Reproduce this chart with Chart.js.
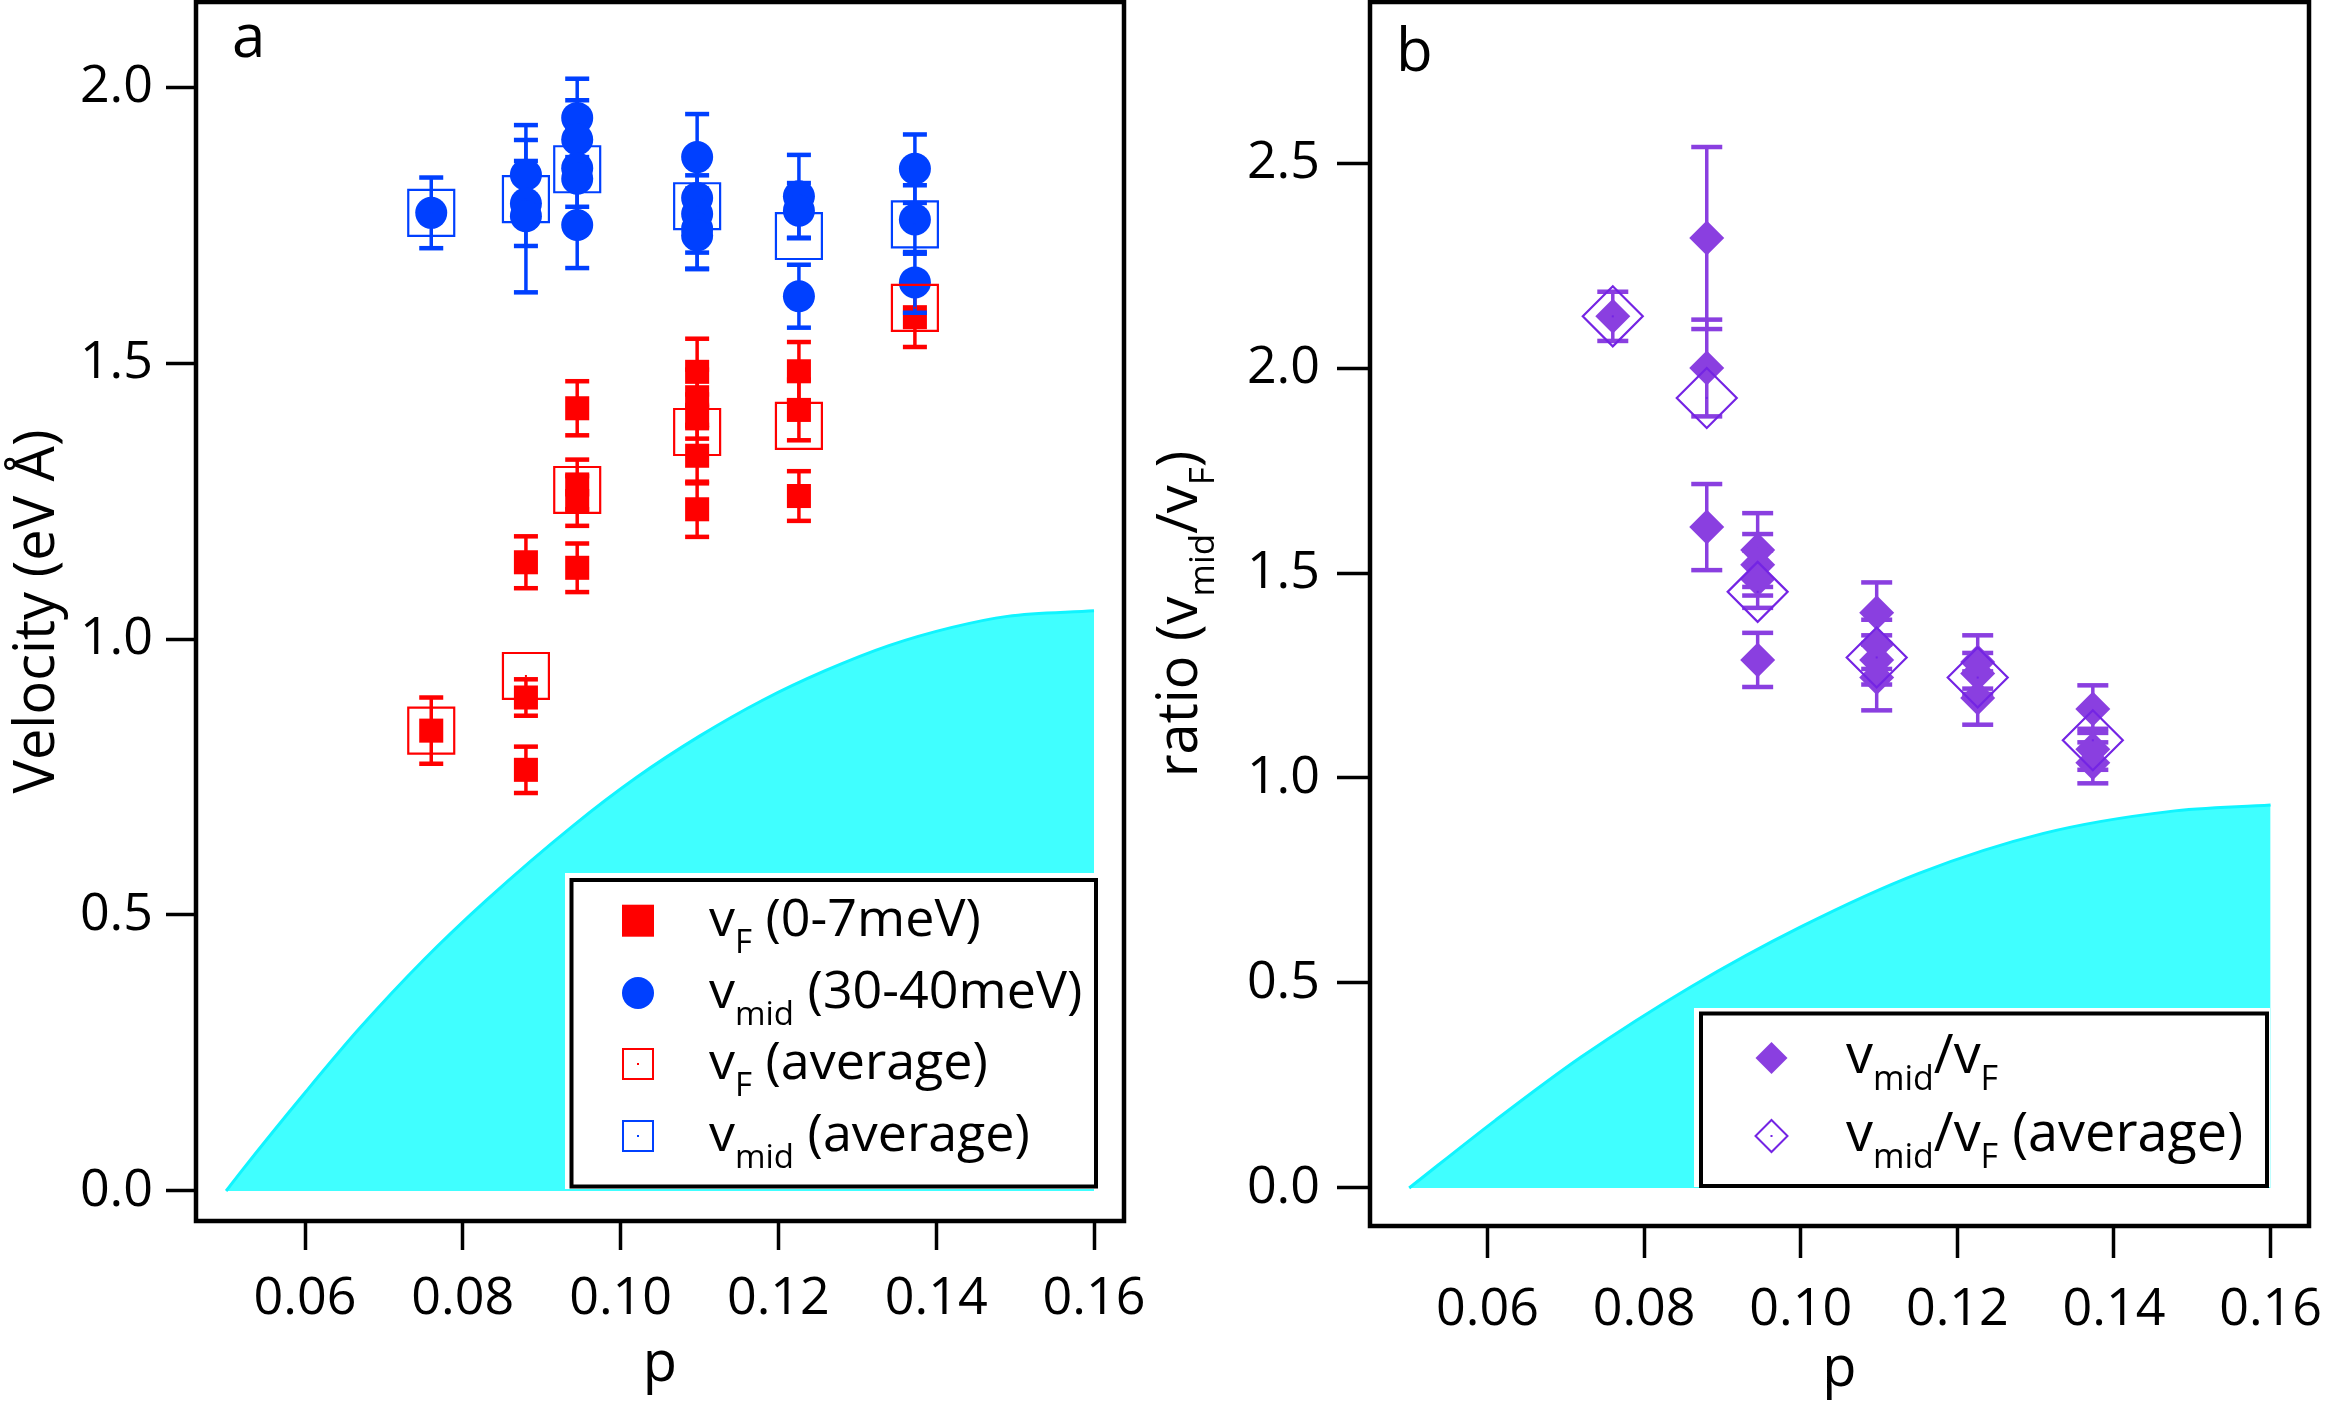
<!DOCTYPE html>
<html>
<head>
<meta charset="utf-8">
<script src="https://cdn.jsdelivr.net/npm/chart.js@4.4.1/dist/chart.umd.min.js"></script>
<style>
  html, body { margin: 0; padding: 0; background: #fff; }
  body { width: 2329px; height: 1405px; position: relative; overflow: hidden; }
  canvas { position: absolute; top: 0; }
  #panelA { left: 0; width: 1150px; height: 1405px; }
  #panelB { left: 1150px; width: 1179px; height: 1405px; }
</style>
</head>
<body>
<canvas id="panelA" width="1150" height="1405"></canvas>
<canvas id="panelB" width="1179" height="1405"></canvas>
<script>
// hole doping of the samples
const dopings = [0.076, 0.088, 0.0945, 0.1097, 0.1226, 0.1373];

// v_F (0-7meV): index into dopings, value, error
const vfDoping = [0, 1, 1, 1, 2, 2, 2, 2, 3, 3, 3, 3, 3, 4, 4, 4, 5];
const vfValues = [0.834, 1.139, 0.894, 0.763, 1.418, 1.280, 1.250, 1.129, 1.484, 1.438, 1.403, 1.332, 1.235, 1.485, 1.415, 1.259, 1.583];
const vfErrors = [0.060, 0.047, 0.033, 0.042, 0.049, 0.045, 0.045, 0.044, 0.060, 0.050, 0.040, 0.050, 0.050, 0.053, 0.055, 0.045, 0.054];

// v_mid (30-40meV)
const vmidDoping = [0, 1, 1, 1, 2, 2, 2, 2, 2, 3, 3, 3, 3, 3, 4, 4, 4, 5, 5, 5];
const vmidValues = [1.772, 1.841, 1.789, 1.766, 1.944, 1.905, 1.853, 1.834, 1.750, 1.873, 1.799, 1.770, 1.743, 1.731, 1.802, 1.776, 1.621, 1.852, 1.760, 1.646];
const vmidErrors = [0.064, 0.090, 0.077, 0.138, 0.071, 0.071, 0.070, 0.070, 0.078, 0.078, 0.070, 0.070, 0.073, 0.060, 0.075, 0.050, 0.057, 0.062, 0.062, 0.055];

// averages, one per doping
const vfAverage = [0.834, 0.933, 1.270, 1.375, 1.386, 1.600];
const vmidAverage = [1.772, 1.797, 1.851, 1.784, 1.730, 1.751];

// ratio v_mid / v_F
const ratioDoping = [0, 1, 1, 1, 2, 2, 2, 2, 3, 3, 3, 3, 4, 4, 4, 5, 5, 5];
const ratioValues = [2.126, 2.317, 2.000, 1.612, 1.556, 1.520, 1.485, 1.288, 1.403, 1.326, 1.288, 1.245, 1.283, 1.255, 1.195, 1.168, 1.070, 1.037];
const ratioErrors = [0.060, 0.222, 0.118, 0.105, 0.090, 0.075, 0.070, 0.066, 0.074, 0.060, 0.060, 0.080, 0.065, 0.050, 0.065, 0.058, 0.050, 0.050];
const ratioAverage = [2.126, 1.927, 1.454, 1.294, 1.245, 1.092];

// shaded region boundaries
const boundaryDoping = [0.050, 0.052, 0.060, 0.067, 0.075, 0.083, 0.094, 0.102, 0.110, 0.118, 0.126, 0.134, 0.142, 0.149, 0.160];
const boundaryVelocity = [0, 0.037, 0.178, 0.296, 0.418, 0.527, 0.662, 0.749, 0.824, 0.889, 0.943, 0.988, 1.021, 1.041, 1.051];
const boundaryRatioDoping = [0.050, 0.061, 0.072, 0.086, 0.100, 0.115, 0.131, 0.147, 0.160];
const boundaryRatio = [0, 0.165, 0.320, 0.491, 0.637, 0.767, 0.865, 0.918, 0.934];

// tick labels
const dopingTicks = [0.06, 0.08, 0.10, 0.12, 0.14, 0.16];
const velocityTicks = [0, 0.5, 1.0, 1.5, 2.0];
const ratioTicks = [0, 0.5, 1.0, 1.5, 2.0, 2.5];

const RED = '#ff0000';
const BLUE = '#0040ff';
const PURPLE = '#8a3fe0';
const VIOLET = '#7424e4';
const CYAN_FILL = '#40ffff';
const CYAN_LINE = '#10f4ff';
const FONT = "'Open Sans', sans-serif";

const toPoints = (groups, values) => groups.map((g, i) => ({x: dopings[g], y: values[i]}));
const avgPoints = (values) => dopings.map((p, i) => ({x: p, y: values[i]}));
const curvePoints = (xs, ys) => xs.map((x, i) => ({x, y: ys[i]}));

// vertical error bars under each dataset's markers, tiny dot inside the open average markers
const errorBarPlugin = {
  id: 'errorBars',
  beforeDatasetDraw(chart, args, opts) {
    const ds = chart.data.datasets[args.index];
    if (!ds.errors) return;
    const {ctx, scales: {x, y}} = chart;
    ctx.save();
    ctx.strokeStyle = ds.borderColor;
    ctx.fillStyle = ds.borderColor;
    ctx.lineWidth = opts.lineWidth;
    ds.data.forEach((pt, i) => {
      const px = x.getPixelForValue(pt.x);
      const top = y.getPixelForValue(pt.y + ds.errors[i]);
      const bottom = y.getPixelForValue(pt.y - ds.errors[i]);
      ctx.beginPath();
      ctx.moveTo(px, top);
      ctx.lineTo(px, bottom);
      ctx.stroke();
      ctx.fillRect(px - opts.capHalf, top - opts.capThick / 2, opts.capHalf * 2, opts.capThick);
      ctx.fillRect(px - opts.capHalf, bottom - opts.capThick / 2, opts.capHalf * 2, opts.capThick);
    });
    ctx.restore();
  },
  afterDatasetDraw(chart, args) {
    const ds = chart.data.datasets[args.index];
    if (!ds.centerDot) return;
    const {ctx} = chart;
    ctx.save();
    ctx.fillStyle = ds.borderColor;
    args.meta.data.forEach((el) => ctx.fillRect(el.x - 1, el.y - 1, 2, 2));
    ctx.restore();
  }
};

function drawRichText(ctx, x, y, parts, mainFont, subFont, subShift) {
  parts.forEach((part) => {
    ctx.font = part.sub ? subFont : mainFont;
    ctx.fillText(part.text, x, y + (part.sub ? subShift : 0));
    x += ctx.measureText(part.text).width;
  });
  return x;
}

function measureRichText(ctx, parts, mainFont, subFont) {
  let w = 0;
  parts.forEach((part) => {
    ctx.font = part.sub ? subFont : mainFont;
    w += ctx.measureText(part.text).width;
  });
  return w;
}

function drawMarker(ctx, kind, color, cx, cy) {
  ctx.save();
  ctx.fillStyle = color;
  ctx.strokeStyle = color;
  ctx.lineWidth = 2;
  if (kind === 'square') {
    ctx.fillRect(cx - 16, cy - 16, 32, 32);
  } else if (kind === 'circle') {
    ctx.beginPath();
    ctx.arc(cx, cy, 16, 0, Math.PI * 2);
    ctx.fill();
  } else if (kind === 'openSquare') {
    ctx.strokeRect(cx - 15, cy - 15, 30, 30);
    ctx.fillRect(cx - 1, cy - 1, 2, 2);
  } else if (kind === 'diamond' || kind === 'openDiamond') {
    ctx.beginPath();
    ctx.moveTo(cx, cy - 16);
    ctx.lineTo(cx + 16, cy);
    ctx.lineTo(cx, cy + 16);
    ctx.lineTo(cx - 16, cy);
    ctx.closePath();
    if (kind === 'diamond') {
      ctx.fill();
    } else {
      ctx.stroke();
      ctx.fillRect(cx - 1, cy - 1, 2, 2);
    }
  }
  ctx.restore();
}

// frame, panel letter, legend box, extra axis title
const decorPlugin = {
  id: 'decor',
  afterDatasetsDraw(chart, args, opts) {
    const {ctx} = chart;
    const lg = opts.legend;
    ctx.save();
    ctx.fillStyle = '#fff';
    ctx.fillRect(lg.bg[0], lg.bg[1], lg.bg[2], lg.bg[3]);
    ctx.strokeStyle = '#000';
    ctx.lineWidth = 4;
    ctx.strokeRect(lg.box[0], lg.box[1], lg.box[2], lg.box[3]);
    ctx.fillStyle = '#000';
    ctx.textBaseline = 'alphabetic';
    ctx.textAlign = 'left';
    lg.items.forEach((item, i) => {
      drawMarker(ctx, item.marker, item.color, lg.markerX, lg.baselines[i] - 15);
      ctx.fillStyle = '#000';
      drawRichText(ctx, lg.textX, lg.baselines[i], item.parts,
        `${lg.size}px ${FONT}`, `${lg.subSize}px ${FONT}`, lg.subShift);
    });
    ctx.restore();
  },
  afterDraw(chart, args, opts) {
    const {ctx, chartArea: a} = chart;
    ctx.save();
    ctx.strokeStyle = '#000';
    ctx.lineWidth = 4.5;
    ctx.strokeRect(a.left, a.top, a.right - a.left, a.bottom - a.top);
    ctx.fillStyle = '#000';
    ctx.font = `60px ${FONT}`;
    ctx.textBaseline = 'alphabetic';
    ctx.fillText(opts.letter, opts.letterX, opts.letterY);
    if (opts.yTitle) {
      const t = opts.yTitle;
      const main = `${t.size}px ${FONT}`;
      const sub = `${t.subSize}px ${FONT}`;
      ctx.translate(t.x, (a.top + a.bottom) / 2);
      ctx.rotate(-Math.PI / 2);
      const w = measureRichText(ctx, t.parts, main, sub);
      drawRichText(ctx, -w / 2, 0, t.parts, main, sub, t.subShift);
    }
    ctx.restore();
  }
};

function makeScales(o) {
  return {
    x: {
      type: 'linear',
      min: o.xMin,
      max: o.xMax,
      afterFit: (s) => {
        s.height = o.xHeight;
        s.paddingLeft = 0;
        s.paddingRight = 0;
      },
      afterBuildTicks: (s) => { s.ticks = dopingTicks.map((v) => ({value: v})); },
      grid: {display: true, drawOnChartArea: false, drawTicks: true, tickLength: o.xTickLen, tickWidth: 3.5, tickColor: '#000'},
      border: {display: false},
      ticks: {font: {family: FONT, size: 52}, color: '#000', padding: o.xPad, maxRotation: 0, autoSkip: false,
        callback: (v) => v.toFixed(2)},
      title: {display: true, text: 'p', font: {family: FONT, size: 56}, color: '#000', padding: {top: 0, bottom: o.pPad}}
    },
    y: {
      type: 'linear',
      min: o.yMin,
      max: o.yMax,
      afterFit: (s) => {
        s.width = o.yWidth;
        s.paddingTop = 0;
        s.paddingBottom = 0;
      },
      afterBuildTicks: (s) => { s.ticks = o.yTicks.map((v) => ({value: v})); },
      grid: {display: true, drawOnChartArea: false, drawTicks: true, tickLength: o.yTickLen, tickWidth: 3.5, tickColor: '#000'},
      border: {display: false},
      ticks: {font: {family: FONT, size: 52}, color: '#000', padding: o.yPad, callback: (v) => v.toFixed(1)},
      title: o.yTitle
        ? {display: true, text: o.yTitle, font: {family: FONT, size: 56}, color: '#000', padding: {top: 4, bottom: 0}}
        : {display: false}
    }
  };
}

const commonOptions = {
  responsive: false,
  animation: false,
  events: [],
  devicePixelRatio: 1
};

new Chart(document.getElementById('panelA'), {
  type: 'scatter',
  data: {
    datasets: [
      {label: 'vF (average)', data: avgPoints(vfAverage), pointStyle: 'rect', pointRadius: 32.5, centerDot: true,
        backgroundColor: 'rgba(0,0,0,0)', borderColor: RED, borderWidth: 2.2},
      {label: 'vmid (average)', data: avgPoints(vmidAverage), pointStyle: 'rect', pointRadius: 32.5, centerDot: true,
        backgroundColor: 'rgba(0,0,0,0)', borderColor: BLUE, borderWidth: 2.2},
      {label: 'vmid (30-40meV)', data: toPoints(vmidDoping, vmidValues), errors: vmidErrors, pointStyle: 'circle',
        pointRadius: 16, backgroundColor: BLUE, borderColor: BLUE, borderWidth: 0},
      {label: 'vF (0-7meV)', data: toPoints(vfDoping, vfValues), errors: vfErrors, pointStyle: 'rect',
        pointRadius: 17, backgroundColor: RED, borderColor: RED, borderWidth: 0},
      {type: 'line', label: 'boundary', data: curvePoints(boundaryDoping, boundaryVelocity), fill: 'origin',
        backgroundColor: CYAN_FILL, borderColor: CYAN_LINE, borderWidth: 3, pointRadius: 0,
        cubicInterpolationMode: 'monotone'}
    ]
  },
  options: {
    ...commonOptions,
    layout: {autoPadding: false, padding: {left: 0, top: 2, right: 26, bottom: 0}},
    scales: makeScales({
      xMin: 0.046185, xMax: 0.163802, xHeight: 184, xTickLen: 29, xPad: 18, pPad: 6,
      yMin: -0.05435, yMax: 2.15399, yWidth: 196, yTickLen: 30, yPad: 13, yTicks: velocityTicks,
      yTitle: 'Velocity (eV Å)'
    }),
    plugins: {
      legend: {display: false},
      tooltip: {enabled: false},
      errorBars: {lineWidth: 3.5, capHalf: 12, capThick: 4.5},
      decor: {
        letter: 'a', letterX: 232, letterY: 57,
        legend: {
          bg: [565, 873, 535, 316], box: [571.5, 880, 524.5, 306.5],
          markerX: 638, textX: 709, baselines: [935.7, 1008, 1079, 1151],
          size: 52, subSize: 33, subShift: 17,
          items: [
            {marker: 'square', color: RED, parts: [{text: 'v'}, {text: 'F', sub: true}, {text: ' (0-7meV)'}]},
            {marker: 'circle', color: BLUE, parts: [{text: 'v'}, {text: 'mid', sub: true}, {text: ' (30-40meV)'}]},
            {marker: 'openSquare', color: RED, parts: [{text: 'v'}, {text: 'F', sub: true}, {text: ' (average)'}]},
            {marker: 'openSquare', color: BLUE, parts: [{text: 'v'}, {text: 'mid', sub: true}, {text: ' (average)'}]}
          ]
        }
      }
    }
  },
  plugins: [errorBarPlugin, decorPlugin]
});

new Chart(document.getElementById('panelB'), {
  type: 'scatter',
  data: {
    datasets: [
      {label: 'vmid/vF (average)', data: avgPoints(ratioAverage), pointStyle: 'rectRot', pointRadius: 30, centerDot: true,
        backgroundColor: 'rgba(0,0,0,0)', borderColor: VIOLET, borderWidth: 2.2},
      {label: 'vmid/vF', data: toPoints(ratioDoping, ratioValues), errors: ratioErrors, pointStyle: 'rectRot',
        pointRadius: 17.5, backgroundColor: PURPLE, borderColor: PURPLE, borderWidth: 0},
      {type: 'line', label: 'boundary', data: curvePoints(boundaryRatioDoping, boundaryRatio), fill: 'origin',
        backgroundColor: CYAN_FILL, borderColor: CYAN_LINE, borderWidth: 3, pointRadius: 0,
        cubicInterpolationMode: 'monotone'}
    ]
  },
  options: {
    ...commonOptions,
    layout: {autoPadding: false, padding: {left: 0, top: 2, right: 20, bottom: 0}},
    scales: makeScales({
      xMin: 0.044996, xMax: 0.164906, xHeight: 179, xTickLen: 32, xPad: 21, pPad: 1,
      yMin: -0.0927, yMax: 2.8927, yWidth: 220, yTickLen: 33, yPad: 17, yTicks: ratioTicks,
      yTitle: null
    }),
    plugins: {
      legend: {display: false},
      tooltip: {enabled: false},
      errorBars: {lineWidth: 3.5, capHalf: 15.5, capThick: 4.5},
      decor: {
        letter: 'b', letterX: 246, letterY: 71,
        yTitle: {
          x: 47, size: 56, subSize: 35, subShift: 17,
          parts: [{text: 'ratio (v'}, {text: 'mid', sub: true}, {text: '/v'}, {text: 'F', sub: true}, {text: ')'}]
        },
        legend: {
          bg: [544, 1008, 576, 179], box: [551, 1013.5, 566, 172.5],
          markerX: 621.5, textX: 696, baselines: [1073, 1151],
          size: 54, subSize: 34, subShift: 17,
          items: [
            {marker: 'diamond', color: PURPLE, parts: [{text: 'v'}, {text: 'mid', sub: true}, {text: '/v'}, {text: 'F', sub: true}]},
            {marker: 'openDiamond', color: VIOLET, parts: [{text: 'v'}, {text: 'mid', sub: true}, {text: '/v'}, {text: 'F', sub: true}, {text: ' (average)'}]}
          ]
        }
      }
    }
  },
  plugins: [errorBarPlugin, decorPlugin]
});
</script>
</body>
</html>
